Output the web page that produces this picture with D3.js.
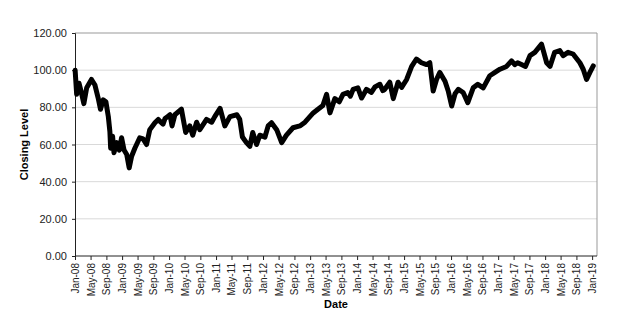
<!DOCTYPE html>
<html><head><meta charset="utf-8">
<script src="https://cdn.jsdelivr.net/npm/d3@7"></script>
<style>body{margin:0;background:#fff;} svg{display:block;font-family:"Liberation Sans",Arial,sans-serif;}</style>
</head><body><svg id="c" width="621" height="320"></svg>
<script>
const dates = ["2008-01-02","2008-01-14","2008-02-01","2008-02-16","2008-03-10","2008-04-01","2008-05-08","2008-06-04","2008-06-29","2008-07-17","2008-08-07","2008-08-28","2008-09-16","2008-09-28","2008-10-04","2008-10-19","2008-10-30","2008-11-20","2008-12-10","2008-12-28","2009-01-16","2009-02-06","2009-02-25","2009-03-16","2009-04-10","2009-05-18","2009-06-13","2009-07-10","2009-08-04","2009-09-13","2009-10-09","2009-10-21","2009-11-15","2009-12-01","2009-12-20","2010-01-08","2010-01-24","2010-02-15","2010-04-07","2010-05-10","2010-06-11","2010-07-04","2010-08-03","2010-08-28","2010-10-19","2010-11-28","2010-12-22","2011-02-01","2011-03-10","2011-04-19","2011-06-12","2011-07-04","2011-07-25","2011-08-25","2011-09-21","2011-10-13","2011-11-12","2011-12-07","2012-01-16","2012-02-10","2012-03-07","2012-04-16","2012-05-25","2012-07-01","2012-08-21","2012-10-13","2012-11-22","2013-01-25","2013-03-03","2013-04-10","2013-05-09","2013-06-04","2013-07-12","2013-08-15","2013-09-13","2013-10-20","2013-11-10","2013-12-01","2014-01-07","2014-02-05","2014-03-15","2014-04-22","2014-05-20","2014-06-27","2014-07-20","2014-08-04","2014-09-12","2014-10-09","2014-11-15","2014-12-13","2015-01-21","2015-03-01","2015-04-07","2015-05-16","2015-06-25","2015-07-20","2015-08-15","2015-09-10","2015-10-06","2015-11-15","2015-12-10","2016-01-06","2016-02-01","2016-02-27","2016-04-04","2016-05-10","2016-06-21","2016-07-27","2016-09-07","2016-10-28","2016-12-07","2017-01-15","2017-03-07","2017-04-15","2017-05-10","2017-06-01","2017-07-01","2017-08-01","2017-09-05","2017-10-13","2017-12-04","2018-01-13","2018-02-08","2018-03-16","2018-04-25","2018-05-21","2018-06-28","2018-08-06","2018-09-28","2018-10-24","2018-11-19","2018-12-15","2019-01-10","2019-02-05"];
const closing = [100,87,93,89,82,90.6,95,92,85,79,84,83,75,67,58,64.5,55.6,61,57,63.6,57,54.6,47.4,53.7,58,63.6,63,60,68,71.7,73.5,72.6,71,74,75,76,70,76,79,66.5,70,65,72,68,73.5,72,75,79.5,70,75,76,73.5,64,61,59,66.5,60,65,64,70,71.7,68,61,65,69,70,72,77,79,81,87,77,84.7,83,87,88,86,89.7,90.5,85,89.7,88,91,92.4,89,89.7,93.5,84.7,93.5,90.7,95,102,106,104,103,104,88.8,95,98.8,94,88.8,80.7,87.3,89.7,88,82.5,90.5,92.4,90.5,97,98.8,100.5,102,105,103,104,103,102,107.8,109.6,114,104,102,109.6,110.5,107.8,109.6,108.7,104,100.5,95,98.8,102.3];
const yTicks = [0,20,40,60,80,100,120];
const xTickLabels = ["Jan-08","May-08","Sep-08","Jan-09","May-09","Sep-09","Jan-10","May-10","Sep-10","Jan-11","May-11","Sep-11","Jan-12","May-12","Sep-12","Jan-13","May-13","Sep-13","Jan-14","May-14","Sep-14","Jan-15","May-15","Sep-15","Jan-16","May-16","Sep-16","Jan-17","May-17","Sep-17","Jan-18","May-18","Sep-18","Jan-19"];

const parse = d3.timeParse("%Y-%m-%d");
const data = dates.map((d,i)=>({date:parse(d), v:closing[i]}));
const tickDates = xTickLabels.map(s=>d3.timeParse("%b-%y")(s));

const svg = d3.select("#c");
const L=75, R=597, T=33, B=256;
const x = d3.scaleTime().domain([parse("2008-01-01"), parse("2019-02-08")]).range([L,R]);
const y = d3.scaleLinear().domain([0,120]).range([B,T]);

svg.append("g").selectAll("line").data(yTicks.filter(t=>t>0&&t<120)).join("line")
  .attr("x1",L).attr("x2",R).attr("y1",d=>y(d)).attr("y2",d=>y(d))
  .attr("stroke","#d9d9d9").attr("stroke-width",1);
svg.append("line").attr("x1",L).attr("x2",R).attr("y1",y(120)).attr("y2",y(120)).attr("stroke","#999").attr("stroke-width",1);
svg.append("line").attr("x1",R).attr("x2",R).attr("y1",T).attr("y2",B).attr("stroke","#999").attr("stroke-width",1);

const ya = svg.append("g").attr("transform",`translate(${L},0)`)
  .call(d3.axisLeft(y).tickValues(yTicks).tickSize(3).tickPadding(5).tickFormat(d3.format(".2f")));
ya.select(".domain").attr("stroke","#222");
ya.selectAll(".tick line").attr("stroke","#222");
ya.selectAll("text").attr("font-size",11).attr("fill","#222").attr("font-family","Liberation Sans, Arial, sans-serif");

const xa = svg.append("g").attr("transform",`translate(0,${B})`)
  .call(d3.axisBottom(x).tickValues(tickDates).tickSize(4).tickFormat(d3.timeFormat("%b-%y")));
xa.select(".domain").attr("stroke","#222").attr("d",`M${L},0H${R}`);
xa.selectAll(".tick line").attr("stroke","#222");
xa.selectAll("text").attr("font-size",10).attr("fill","#222").attr("font-family","Liberation Sans, Arial, sans-serif")
  .attr("transform","rotate(-90)").attr("text-anchor","end").attr("x",-7).attr("y",0).attr("dy","0.35em");

svg.append("path").datum(data)
  .attr("fill","none").attr("stroke","#000").attr("stroke-width",5)
  .attr("stroke-linejoin","round").attr("stroke-linecap","round")
  .attr("d", d3.line().x(d=>x(d.date)).y(d=>y(d.v)));

svg.append("text").attr("x",(L+R)/2).attr("y",308).attr("text-anchor","middle")
  .attr("font-size",11).attr("font-weight","bold").attr("fill","#000").text("Date");
svg.append("text").attr("transform",`translate(28,${(T+B)/2}) rotate(-90)`).attr("text-anchor","middle")
  .attr("font-size",11).attr("font-weight","bold").attr("fill","#000").text("Closing Level");
</script></body></html>
